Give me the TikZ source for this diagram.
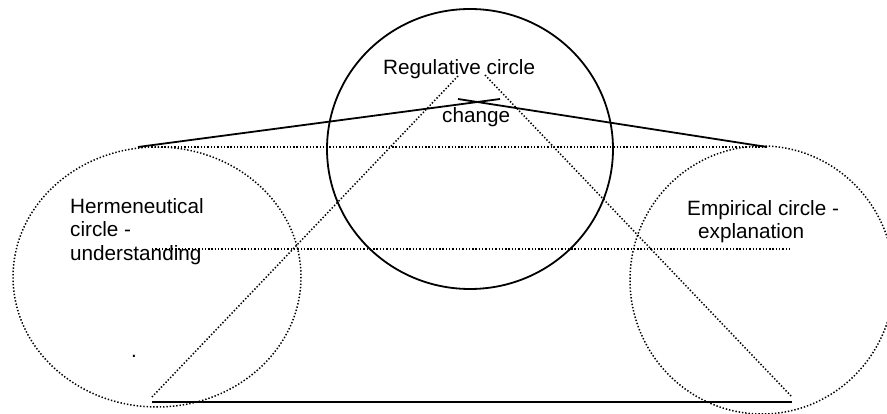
\documentclass[tikz,border=0pt]{standalone}
\usepackage{fontspec}
\setmainfont{Liberation Sans}
\begin{document}
\begin{tikzpicture}[x=1pt,y=-1pt,
  thickline/.style={line width=1.8pt},
  dotline/.style={line width=1.5pt,dash pattern=on 1.4pt off 1.9pt},
  txt/.style={inner sep=0pt,font=\fontsize{20.7}{23.5}\selectfont,align=left}]
\useasboundingbox (0,0) rectangle (887,414);
\clip (0,0) rectangle (887,414);
% the three circles
\draw[thickline] (470,149) ellipse [x radius=143, y radius=140];
\draw[dotline] (157,277) ellipse [x radius=144, y radius=130];
\draw[dotline] (762,280) ellipse [x radius=132, y radius=134];
% end points
\coordinate (topL) at (138,147);
\coordinate (topR) at (767,147);
\coordinate (midL) at (152,249);
\coordinate (midR) at (790,249);
\coordinate (botL) at (152,402);
\coordinate (botR) at (792,402);
\coordinate (apexL) at (458,76);
\coordinate (apexR) at (485,75);
\coordinate (crossL) at (458,99);
\coordinate (crossR) at (500,99);
\coordinate (triL) at (152,397);
\coordinate (triR) at (792,397);
% solid lines
\draw[thickline] (topL) -- (crossR);
\draw[thickline] (topR) -- (crossL);
\draw[thickline] (botL) -- (botR);
% dotted lines
\draw[dotline] (topL) -- (topR);
\draw[dotline] (midL) -- (midR);
\draw[dotline] (apexL) -- (triL);
\draw[dotline] (apexR) -- (triR);
% labels
\node[txt,anchor=base west] (reg) at (383,75) {Regulative circle};
\node[txt,anchor=base west] (chg) at (442,123) {change};
\node[txt,anchor=north west] (herm) at (70,198) {Hermeneutical\\circle -\\understanding};
\node[txt,anchor=north west] (emp) at (687,200) {Empirical circle -\\\hspace*{11pt}explanation};
\node[txt,anchor=base west] (dot) at (131,357) {.};
\end{tikzpicture}
\end{document}
